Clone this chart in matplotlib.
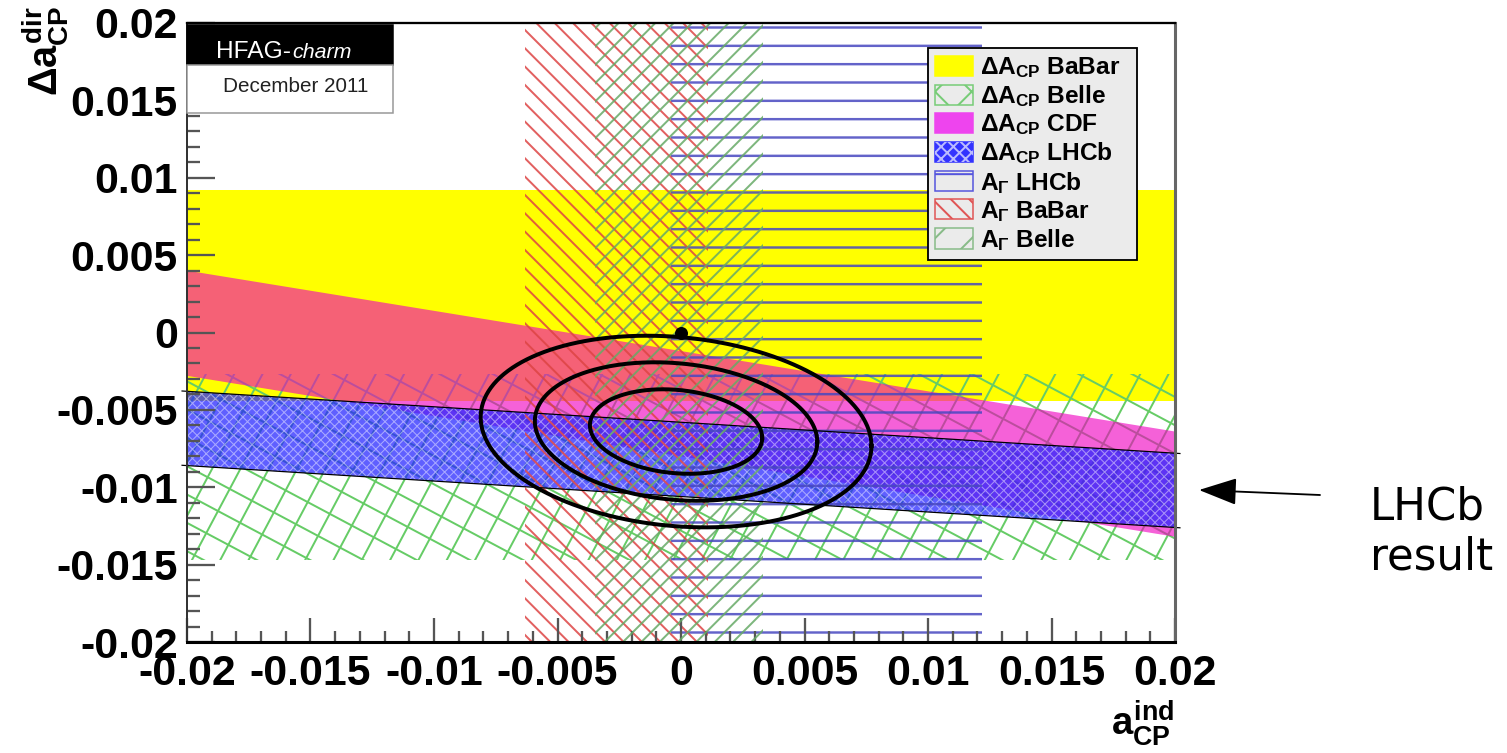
import numpy as np
import matplotlib
matplotlib.use("Agg")
import matplotlib.pyplot as plt
from matplotlib.patches import Patch, Polygon, Rectangle, FancyArrowPatch
from matplotlib.collections import LineCollection
from matplotlib.ticker import MultipleLocator, FuncFormatter

W, H, DPI = 1507, 753, 110

plt.rcParams["font.family"] = ["Liberation Sans", "DejaVu Sans"]
plt.rcParams["mathtext.fontset"] = "custom"
for key in ("rm", "it", "bf", "sf"):
    plt.rcParams[f"mathtext.{key}"] = "Liberation Sans:bold"
plt.rcParams["hatch.linewidth"] = 1.3

# axis range
x_range = [-0.02, 0.02]
y_range = [-0.02, 0.02]

# Delta A_CP bands: dir = centre - slope * ind +- half
dacp_names = ["BaBar", "Belle", "CDF", "LHCb"]
dacp_centre = [0.0024, -0.0087, -0.0046, -0.0082]
dacp_slope = [0.0, 0.0, 0.26, 0.10]
dacp_half = [0.0068, 0.0060, 0.0034, 0.0024]

# A_Gamma bands (a_ind = -A_Gamma)
agam_names = ["LHCb", "BaBar", "Belle"]
agam_centre = [0.0059, -0.0026, -0.0001]
agam_half = [0.0063, 0.0037, 0.0034]

# HFAG combined fit, 1/2/3 sigma 2D contours
fit_centre = (-0.0002, -0.0064)
fit_sigma = (0.0023, 0.0018)
fit_rho = -0.15
fit_chi2 = [2.30, 6.18, 11.83]
no_cpv = (0.0, 0.0)


def fig_xy(x, y):
    return x / W, 1 - y / H


def dacp_poly(i, **kw):
    xs = np.array(x_range)
    mid = dacp_centre[i] - dacp_slope[i] * xs
    pts = [(xs[0], mid[0] - dacp_half[i]), (xs[1], mid[1] - dacp_half[i]),
           (xs[1], mid[1] + dacp_half[i]), (xs[0], mid[0] + dacp_half[i])]
    return Polygon(pts, closed=True, **kw)


def agam_poly(i, **kw):
    lo, hi = agam_centre[i] - agam_half[i], agam_centre[i] + agam_half[i]
    pts = [(lo, y_range[0]), (hi, y_range[0]), (hi, y_range[1]), (lo, y_range[1])]
    return Polygon(pts, closed=True, **kw)


fig = plt.figure(figsize=(W / DPI, H / DPI), dpi=DPI, facecolor="white")
ax_w, ax_h = 988, 619
ax = fig.add_axes([187 / W, 1 - 642 / H, ax_w / W, ax_h / H])
ax.set_xlim(x_range)
ax.set_ylim(y_range)

# Delta A_CP BaBar
ax.add_patch(dacp_poly(0, facecolor="#ffff00", edgecolor="none", zorder=1.0))

# Delta A_CP Belle: coarse rotated cross-hatch
belle_clip = dacp_poly(1, facecolor="none", edgecolor="none", zorder=1.1)
ax.add_patch(belle_clip)
segs = []
big = 1400
for ang in (62, -28):
    t = np.deg2rad(ang)
    d = np.array([np.cos(t), np.sin(t)])
    n = np.array([-np.sin(t), np.cos(t)])
    c = np.array([ax_w / 2, ax_h / 2])
    for s in np.arange(-big, big, 25):
        p0 = c + s * n - big * d
        p1 = c + s * n + big * d
        segs.append([(p0[0] / ax_w, p0[1] / ax_h), (p1[0] / ax_w, p1[1] / ax_h)])
grid = LineCollection(segs, colors="#66cc66", linewidths=1.3, transform=ax.transAxes, zorder=1.1)
grid.set_clip_path(belle_clip)
ax.add_collection(grid)

# Delta A_CP CDF
ax.add_patch(dacp_poly(2, facecolor="#f000c0", edgecolor="none", alpha=0.62, zorder=1.2))

# Delta A_CP LHCb
ax.add_patch(dacp_poly(3, facecolor="#2222ff", edgecolor="none", alpha=0.72, zorder=1.3))
lhcb_dots = dacp_poly(3, facecolor="none", edgecolor="white", hatch="xxxx", linewidth=0,
                      alpha=0.45, zorder=1.31)
if hasattr(lhcb_dots, "set_hatch_linewidth"):
    lhcb_dots.set_hatch_linewidth(0.7)
ax.add_patch(lhcb_dots)

# A_Gamma bands
lhcb_lines = agam_poly(0, facecolor="none", edgecolor="#4848c0", hatch="-", linewidth=0,
                       alpha=0.85, zorder=1.4)
if hasattr(lhcb_lines, "set_hatch_linewidth"):
    lhcb_lines.set_hatch_linewidth(1.6)
ax.add_patch(lhcb_lines)
ax.add_patch(agam_poly(1, facecolor="none", edgecolor="#dd4444", hatch="\\\\", linewidth=0,
                       alpha=0.85, zorder=1.5))
ax.add_patch(agam_poly(2, facecolor="none", edgecolor="#66aa66", hatch="//", linewidth=0,
                       alpha=0.85, zorder=1.6))

# LHCb band edges
xs = np.array([x_range[0] - 0.0002, x_range[1] + 0.0002])
for sign in (1, -1):
    ax.plot(xs, dacp_centre[3] - dacp_slope[3] * xs + sign * dacp_half[3],
            color="black", lw=0.8, zorder=2.0, clip_on=False)

# fit contours
tt = np.linspace(0, 2 * np.pi, 300)
for chi2 in fit_chi2:
    r = np.sqrt(chi2)
    ex = fit_centre[0] + fit_sigma[0] * r * np.cos(tt)
    ey = fit_centre[1] + fit_sigma[1] * r * (fit_rho * np.cos(tt) + np.sqrt(1 - fit_rho ** 2) * np.sin(tt))
    ax.plot(ex, ey, color="black", lw=2.6, zorder=2.2)
ax.plot([no_cpv[0]], [no_cpv[1]], "o", color="black", ms=7.5, zorder=2.3)

# axes styling
ax.xaxis.set_major_locator(MultipleLocator(0.005))
ax.xaxis.set_minor_locator(MultipleLocator(0.001))
ax.yaxis.set_major_locator(MultipleLocator(0.005))
ax.yaxis.set_minor_locator(MultipleLocator(0.001))
fmt = FuncFormatter(lambda v, p: "0" if abs(v) < 1e-9 else f"{v:g}")
ax.xaxis.set_major_formatter(fmt)
ax.yaxis.set_major_formatter(fmt)
ax.tick_params(axis="y", which="major", direction="in", length=18, width=1.5, color="#555555",
               labelsize=28, pad=6, right=False)
ax.tick_params(axis="y", which="minor", direction="in", length=8.5, width=1.5, color="#555555", right=False)
ax.tick_params(axis="x", which="major", direction="in", length=16, width=1.5, color="#555555",
               labelsize=28, pad=8, top=False)
ax.tick_params(axis="x", which="minor", direction="in", length=7, width=1.5, color="#555555", top=False)
for lab in ax.get_xticklabels() + ax.get_yticklabels():
    lab.set_fontweight("bold")
ax.spines["left"].set(linewidth=1.3, color="#333333")
ax.spines["bottom"].set(linewidth=2.0, color="black")
ax.spines["top"].set(linewidth=1.5, color="black")
ax.spines["right"].set(linewidth=2.0, color="#666666")

# axis titles
fig.text(*fig_xy(45, 6), r"$\Delta a^{dir}_{CP}$", rotation=90, ha="center", va="top", fontsize=26)
fig.text(*fig_xy(1174, 748), r"$a^{ind}_{CP}$", ha="right", va="bottom", fontsize=25)

# HFAG label
fig.add_artist(Rectangle(fig_xy(187, 65), 206 / W, 40 / H, transform=fig.transFigure,
                         facecolor="black", edgecolor="black", zorder=5))
fig.add_artist(Rectangle(fig_xy(187, 113), 206 / W, 48 / H, transform=fig.transFigure,
                         facecolor="white", edgecolor="#999999", lw=1, zorder=5))
fig.text(*fig_xy(216, 58), "HFAG-", color="white", fontsize=16, va="baseline", zorder=6)
fig.text(*fig_xy(292, 58), "charm", color="white", fontsize=14, style="italic", va="baseline", zorder=6)
fig.text(*fig_xy(296, 92), "December 2011", color="#222222", fontsize=13.5, ha="center",
         va="baseline", zorder=6)

# legend
labels = [r"$\Delta A_{CP}$ BaBar", r"$\Delta A_{CP}$ Belle", r"$\Delta A_{CP}$ CDF",
          r"$\Delta A_{CP}$ LHCb", r"$A_{\Gamma}$ LHCb", r"$A_{\Gamma}$ BaBar", r"$A_{\Gamma}$ Belle"]
handles = [
    Patch(facecolor="#ffff00", edgecolor="#ffff00"),
    Patch(facecolor="none", edgecolor="#77cc77", hatch="x"),
    Patch(facecolor="#ee44ee", edgecolor="#ee44ee"),
    (Patch(facecolor="#3333ff", edgecolor="#3333ff"),
     Patch(facecolor="none", edgecolor="#bbbbff", hatch="xxx", linewidth=0)),
    Patch(facecolor="none", edgecolor="#5555dd", hatch="-"),
    Patch(facecolor="none", edgecolor="#e05555", hatch="\\\\"),
    Patch(facecolor="none", edgecolor="#88bb88", hatch="/"),
]
leg_x0, leg_y1, leg_w = 928, 48, 209
leg = fig.legend(handles, labels, loc="upper left",
                 bbox_to_anchor=(leg_x0 / W, 1 - (leg_y1 + 209) / H, leg_w / W, 209 / H),
                 mode="expand", frameon=True, fancybox=False, edgecolor="black",
                 facecolor="#ebebeb", framealpha=1,
                 prop=dict(family="Liberation Sans", weight="bold", size=16),
                 handlelength=1.55, handleheight=0.9, labelspacing=0.13, borderpad=0.3,
                 handletextpad=0.28, borderaxespad=0)
leg.get_frame().set_linewidth(1.2)

# LHCb result annotation
fig.text(*fig_xy(1370, 520), "LHCb", fontsize=28.5, family="DejaVu Sans", va="baseline")
fig.text(*fig_xy(1370, 570), "result", fontsize=28.5, family="DejaVu Sans", va="baseline")
fig.add_artist(FancyArrowPatch(
    fig_xy(1320, 495), fig_xy(1199, 490), transform=fig.transFigure,
    arrowstyle="-|>,head_length=0.45,head_width=0.16", mutation_scale=48,
    color="black", lw=1.2, shrinkA=0, shrinkB=0))

fig.savefig("out.png", dpi=DPI, facecolor="white")
